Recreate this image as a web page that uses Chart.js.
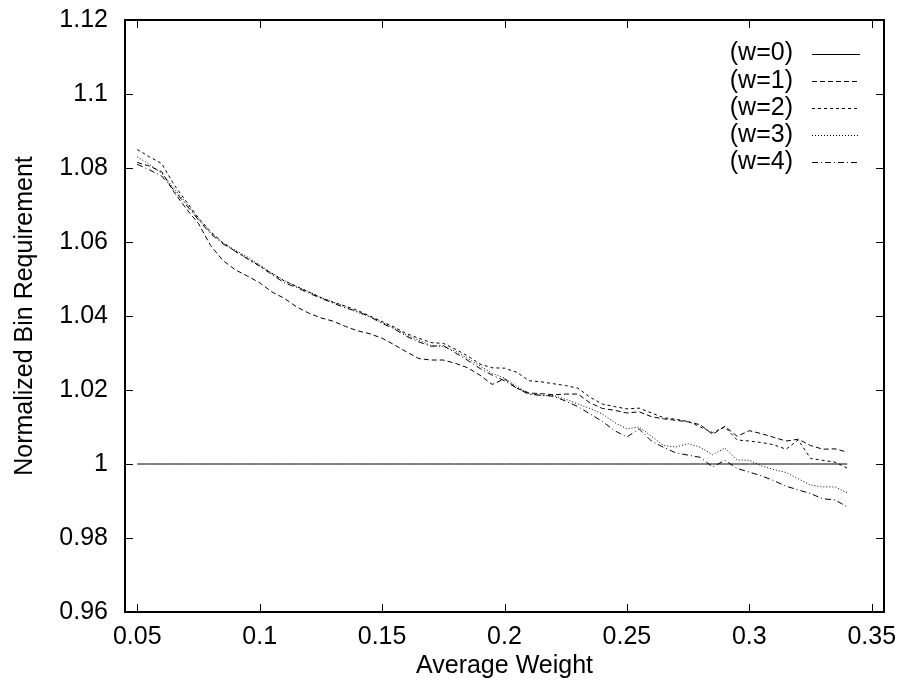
<!DOCTYPE html>
<html>
<head>
<meta charset="utf-8">
<script src="https://cdn.jsdelivr.net/npm/chart.js@4/dist/chart.umd.min.js"></script>
<style>
  html, body { margin: 0; padding: 0; background: #fff; }
  #wrap { width: 904px; height: 683px; }
</style>
</head>
<body>
<div id="wrap"><canvas id="c" width="904" height="683"></canvas></div>
<script>
// average weight, 0.05 .. 0.34 step 0.005
const weights = [
  0.05, 0.055, 0.06, 0.065, 0.07, 0.075, 0.08, 0.085, 0.09, 0.095,
  0.10, 0.105, 0.11, 0.115, 0.12, 0.125, 0.13, 0.135, 0.14, 0.145,
  0.15, 0.155, 0.16, 0.165, 0.17, 0.175, 0.18, 0.185, 0.19, 0.195,
  0.20, 0.205, 0.21, 0.215, 0.22, 0.225, 0.23, 0.235, 0.24, 0.245,
  0.25, 0.255, 0.26, 0.265, 0.27, 0.275, 0.28, 0.285, 0.29, 0.295,
  0.30, 0.305, 0.31, 0.315, 0.32, 0.325, 0.33, 0.335, 0.34
];

const w0 = weights.map(() => 1);

const w1 = [
  1.0815, 1.0805, 1.0790, 1.0735, 1.0690, 1.0650, 1.0590, 1.0550, 1.0525, 1.0508,
  1.0490, 1.0465, 1.0448, 1.0425, 1.0408, 1.0395, 1.0386, 1.0372, 1.0360, 1.0352,
  1.0340, 1.0322, 1.0303, 1.0285, 1.0281, 1.0281, 1.0272, 1.0260, 1.0240, 1.0215,
  1.0230, 1.0205, 1.0192, 1.0190, 1.0187, 1.0189, 1.0189, 1.0165, 1.0150, 1.0145,
  1.0138, 1.0141, 1.0128, 1.0122, 1.0118, 1.0114, 1.0106, 1.0080, 1.0102, 1.0075,
  1.0090, 1.0082, 1.0072, 1.0062, 1.0067, 1.0050, 1.0040, 1.0041, 1.0032
];

const w2 = [
  1.0850, 1.0830, 1.0812, 1.0755, 1.0710, 1.0665, 1.0628, 1.0598, 1.0575, 1.0555,
  1.0535, 1.0515, 1.0495, 1.0480, 1.0465, 1.0450, 1.0437, 1.0427, 1.0415, 1.0400,
  1.0385, 1.0370, 1.0352, 1.0340, 1.0328, 1.0326, 1.0310, 1.0292, 1.0270, 1.0260,
  1.0259, 1.0248, 1.0225, 1.0222, 1.0217, 1.0212, 1.0205, 1.0180, 1.0162, 1.0155,
  1.0149, 1.0151, 1.0138, 1.0125, 1.0121, 1.0115, 1.0100, 1.0085, 1.0100, 1.0065,
  1.0062, 1.0058, 1.0052, 1.0040, 1.0065, 1.0015, 1.0010, 1.0005, 0.9989
];

const w3 = [
  1.0830, 1.0810, 1.0785, 1.0745, 1.0705, 1.0662, 1.0625, 1.0598, 1.0578, 1.0560,
  1.0538, 1.0516, 1.0496, 1.0480, 1.0466, 1.0450, 1.0438, 1.0425, 1.0410, 1.0398,
  1.0383, 1.0367, 1.0348, 1.0335, 1.0320, 1.0318, 1.0305, 1.0285, 1.0265, 1.0245,
  1.0232, 1.0210, 1.0190, 1.0185, 1.0185, 1.0175, 1.0162, 1.0150, 1.0135, 1.0112,
  1.0095, 1.0100, 1.0075, 1.0050, 1.0046, 1.0055, 1.0045, 1.0025, 1.0043, 1.0011,
  1.0010, 0.9995, 0.9985, 0.9977, 0.9960, 0.9943, 0.9938, 0.9938, 0.9922
];

const w4 = [
  1.0810, 1.0795, 1.0778, 1.0740, 1.0700, 1.0660, 1.0622, 1.0595, 1.0575, 1.0555,
  1.0535, 1.0512, 1.0490, 1.0477, 1.0462, 1.0448, 1.0435, 1.0422, 1.0412, 1.0398,
  1.0380, 1.0365, 1.0345, 1.0330, 1.0318, 1.0320, 1.0300, 1.0280, 1.0258, 1.0240,
  1.0225, 1.0205, 1.0188, 1.0186, 1.0183, 1.0170, 1.0155, 1.0135, 1.0115, 1.0090,
  1.0073, 1.0095, 1.0062, 1.0045, 1.0030, 1.0024, 1.0018, 0.9992, 1.0010, 0.9988,
  0.9978, 0.9968, 0.9955, 0.9940, 0.9930, 0.9920, 0.9906, 0.9903, 0.9884
];

const seriesLabels = ["(w=0)", "(w=1)", "(w=2)", "(w=3)", "(w=4)"];
const seriesData = [w0, w1, w2, w3, w4];
const dashes = [[], [5, 3], [3, 3], [1, 2], [6, 3, 1, 3]];

const xTicks = [0.05, 0.1, 0.15, 0.2, 0.25, 0.3, 0.35];
const xTickLabels = ["0.05", "0.1", "0.15", "0.2", "0.25", "0.3", "0.35"];
const yTicks = [0.96, 0.98, 1.0, 1.02, 1.04, 1.06, 1.08, 1.1, 1.12];
const yTickLabels = ["0.96", "0.98", "1", "1.02", "1.04", "1.06", "1.08", "1.1", "1.12"];

const FONT = "'Liberation Sans', Arial, Helvetica, sans-serif";
const FSIZE = 25;

// frame, inward ticks on all four sides, and gnuplot-style legend
const gnuFrame = {
  id: "gnuFrame",
  afterDraw(chart) {
    const { ctx, chartArea: a, scales: { x, y } } = chart;
    ctx.save();
    ctx.strokeStyle = "#000";
    ctx.lineWidth = 1;
    ctx.beginPath();
    xTicks.forEach(v => {
      const px = Math.round(x.getPixelForValue(v)) + 0.5;
      ctx.moveTo(px, a.bottom); ctx.lineTo(px, a.bottom - 8);
      ctx.moveTo(px, a.top); ctx.lineTo(px, a.top + 8);
    });
    yTicks.forEach(v => {
      const py = Math.round(y.getPixelForValue(v)) + 0.5;
      ctx.moveTo(a.left, py); ctx.lineTo(a.left + 8, py);
      ctx.moveTo(a.right, py); ctx.lineTo(a.right - 8, py);
    });
    ctx.stroke();

    ctx.lineWidth = 2;
    ctx.strokeRect(a.left, a.top, a.right - a.left, a.bottom - a.top);

    // legend
    ctx.font = FSIZE + "px " + FONT;
    ctx.fillStyle = "#000";
    ctx.textAlign = "right";
    ctx.textBaseline = "middle";
    chart.data.datasets.forEach((ds, i) => {
      const ly = 53.5 + i * 27.2;
      ctx.fillText(ds.label, 793, ly);
      ctx.lineWidth = 1;
      ctx.setLineDash(ds.borderDash);
      ctx.beginPath();
      ctx.moveTo(812, Math.round(ly) + 0.5);
      ctx.lineTo(860, Math.round(ly) + 0.5);
      ctx.stroke();
    });
    ctx.restore();
  }
};

new Chart(document.getElementById("c"), {
  type: "line",
  data: {
    datasets: seriesLabels.map((label, i) => ({
      label: label,
      data: weights.map((w, j) => ({ x: w, y: seriesData[i][j] })),
      borderColor: "#000",
      borderWidth: 1,
      borderDash: dashes[i],
      pointRadius: 0,
      tension: 0,
      fill: false,
    })),
  },
  options: {
    responsive: false,
    animation: false,
    layout: { padding: { left: 0, right: 20, top: 20, bottom: 0 } },
    plugins: {
      legend: { display: false },
      tooltip: { enabled: false },
    },
    scales: {
      x: {
        type: "linear",
        min: 0.045,
        max: 0.355,
        grid: { display: false, drawTicks: false },
        border: { display: false },
        afterBuildTicks: s => { s.ticks = xTicks.map(v => ({ value: v })); },
        afterFit: s => { s.height = 71; s.paddingLeft = 0; s.paddingRight = 0; },
        ticks: {
          padding: 10,
          maxRotation: 0,
          autoSkip: false,
          color: "#000",
          font: { family: FONT, size: FSIZE },
          callback: v => xTickLabels[xTicks.findIndex(t => Math.abs(t - v) < 1e-9)],
        },
        title: {
          display: true,
          text: "Average Weight",
          color: "#000",
          font: { family: FONT, size: FSIZE },
          padding: { top: 0, bottom: 2 },
        },
      },
      y: {
        type: "linear",
        min: 0.96,
        max: 1.12,
        grid: { display: false, drawTicks: false },
        border: { display: false },
        afterBuildTicks: s => { s.ticks = yTicks.map(v => ({ value: v })); },
        afterFit: s => { s.width = 125; s.paddingTop = 0; s.paddingBottom = 0; },
        ticks: {
          padding: 17,
          autoSkip: false,
          color: "#000",
          font: { family: FONT, size: FSIZE },
          callback: v => yTickLabels[yTicks.findIndex(t => Math.abs(t - v) < 1e-9)],
        },
        title: {
          display: true,
          text: "Normalized Bin Requirement",
          color: "#000",
          font: { family: FONT, size: FSIZE },
          padding: { top: 10, bottom: 0 },
        },
      },
    },
  },
  plugins: [gnuFrame],
});
</script>
</body>
</html>
